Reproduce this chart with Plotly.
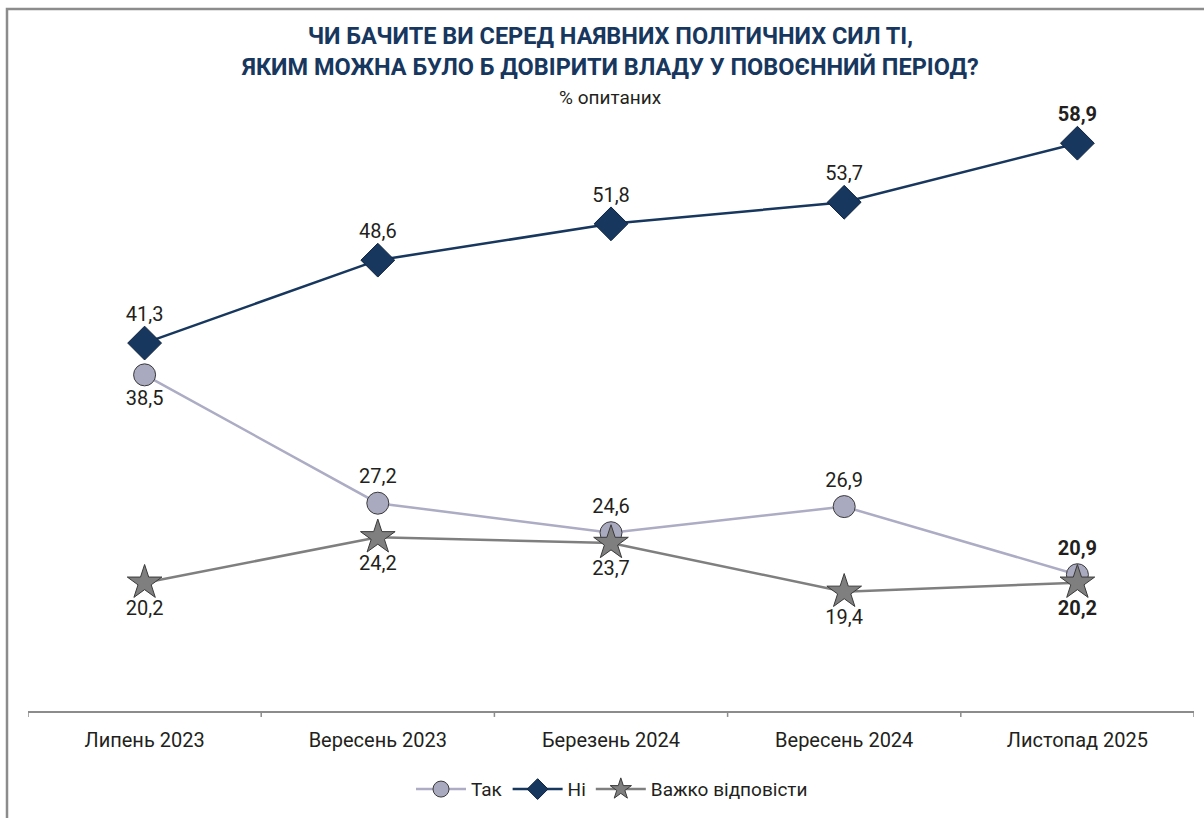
import plotly.graph_objects as go

categories = ["Липень 2023", "Вересень 2023", "Березень 2024", "Вересень 2024", "Листопад 2025"]
tak = [38.5, 27.2, 24.6, 26.9, 20.9]
ni = [41.3, 48.6, 51.8, 53.7, 58.9]
vazhko = [20.2, 24.2, 23.7, 19.4, 20.2]

tak_pos = ["bottom center", "top center", "top center", "top center", "top center"]
ni_pos = ["top center"] * 5
vazhko_pos = ["bottom center"] * 5


def fmt(vals):
    out = []
    for i, v in enumerate(vals):
        s = f"{v:.1f}".replace(".", ",")
        if i == len(vals) - 1:
            s = f"<b>{s}</b>"
        out.append(s)
    return out


FONT = "Roboto, Arial"
x = list(range(len(categories)))

fig = go.Figure()
fig.add_trace(go.Scatter(
    x=x, y=tak, name="Так", mode="lines+markers+text", cliponaxis=False,
    line=dict(color="#acacc4", width=2.5),
    marker=dict(symbol="circle", size=22, color="#a9aac0", line=dict(color="#3a3a3a", width=1)),
    text=fmt(tak), textposition=tak_pos,
    textfont=dict(size=20, color="#231f20", family=FONT),
))
fig.add_trace(go.Scatter(
    x=x, y=ni, name="Ні", mode="lines+markers+text", cliponaxis=False,
    line=dict(color="#17375e", width=2.5),
    marker=dict(symbol="diamond", size=26, color="#17375e", line=dict(color="#0e2440", width=1)),
    text=fmt(ni), textposition=ni_pos,
    textfont=dict(size=20, color="#231f20", family=FONT),
))
fig.add_trace(go.Scatter(
    x=x, y=vazhko, name="Важко відповісти", mode="lines+markers+text", cliponaxis=False,
    line=dict(color="#7f7f7f", width=2.5),
    marker=dict(symbol="star", size=26, color="#7f7f7f", line=dict(color="#3a3a3a", width=1)),
    text=fmt(vazhko), textposition=vazhko_pos,
    textfont=dict(size=20, color="#231f20", family=FONT),
))

L, R, T, B = 28, 10, 108, 101
W, H = 1204, 818
pw, ph = W - L - R, H - T - B

def px_x(p):
    return (p - L) / pw

def px_y(p):
    return (H - B - p) / ph

fig.update_layout(
    width=W, height=H,
    margin=dict(l=L, r=R, t=T, b=B),
    paper_bgcolor="white", plot_bgcolor="white",
    showlegend=True,
    legend=dict(orientation="h", x=px_x(612), xanchor="center", y=px_y(796), yanchor="middle",
                font=dict(size=19, color="#231f20", family=FONT), itemwidth=50,
                traceorder="normal"),
    xaxis=dict(
        tickmode="array", tickvals=x, ticktext=categories,
        range=[-0.5, 4.5], showgrid=False, zeroline=False,
        showline=True, linecolor="#8c8c8c", linewidth=1.5,
        ticks="", ticklabelstandoff=10,
        tickfont=dict(size=20, color="#231f20", family=FONT),
    ),
    yaxis=dict(range=[8.9, 62], visible=False, showgrid=False, zeroline=False),
    annotations=[
        dict(text="<b>ЧИ БАЧИТЕ ВИ СЕРЕД НАЯВНИХ ПОЛІТИЧНИХ СИЛ ТІ,<br>ЯКИМ МОЖНА БУЛО Б ДОВІРИТИ ВЛАДУ У ПОВОЄННИЙ ПЕРІОД?</b>",
             xref="paper", yref="paper", x=px_x(610), y=px_y(51), xanchor="center", yanchor="middle",
             showarrow=False, font=dict(size=23.5, color="#17375e", family=FONT)),
        dict(text="% опитаних", xref="paper", yref="paper", x=px_x(610), y=px_y(97),
             xanchor="center", yanchor="middle", showarrow=False,
             font=dict(size=19, color="#231f20", family=FONT)),
    ],
)

shapes = []
# boundary ticks
for b in [-0.5, 0.5, 1.5, 2.5, 3.5, 4.5]:
    shapes.append(dict(type="line", xref="x", yref="paper", x0=b, x1=b,
                       y0=0, y1=px_y(723), line=dict(color="#8c8c8c", width=1.5)))
# outer frame (top and left)
fx, fy = px_x(7), px_y(8)
shapes.append(dict(type="path", xref="paper", yref="paper",
                   path=f"M {fx} {px_y(830)} L {fx} {fy} L {px_x(1220)} {fy}",
                   line=dict(color="#8c8c8c", width=2.5)))
fig.update_layout(shapes=shapes)

fig.write_html("out.html", config={"displayModeBar": False},
               post_script="document.body.style.margin='0';document.body.style.overflow='hidden';")
